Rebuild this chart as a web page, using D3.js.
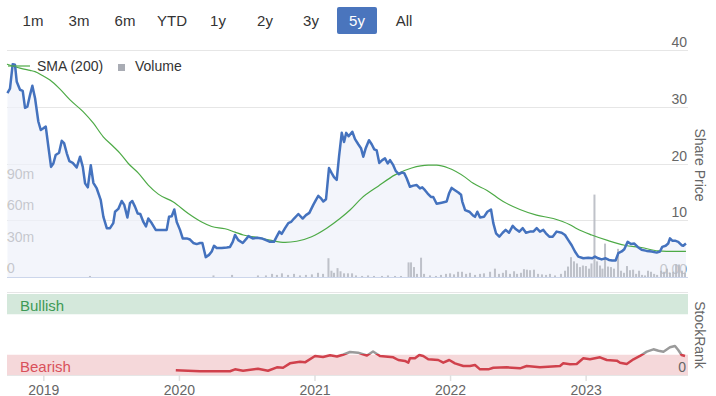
<!DOCTYPE html>
<html><head><meta charset="utf-8">
<script src="https://cdn.jsdelivr.net/npm/d3@7"></script>
<style>
html,body{margin:0;padding:0;background:#fff;}
svg{display:block;font-family:"Liberation Sans",Arial,sans-serif;}
</style></head>
<body><svg id="c" width="716" height="396"></svg>
<script>
// ---- DATA (time as decimal years) ----
const rangeButtons = ["1m","3m","6m","YTD","1y","2y","3y","5y","All"];
const selectedButton = "5y";
const yearTicks = [2019, 2020, 2021, 2022, 2023];
const priceTicks = [0, 10, 20, 30, 40];
const volumeTicks = [0, 30, 60, 90];

const priceTime = [2018.735,2018.754,2018.774,2018.791,2018.804,2018.828,2018.848,2018.865,2018.882,2018.902,2018.919,2018.939,2018.963,2018.981,2019.000,2019.018,2019.037,2019.057,2019.074,2019.091,2019.116,2019.136,2019.153,2019.173,2019.192,2019.217,2019.246,2019.271,2019.291,2019.308,2019.328,2019.350,2019.369,2019.394,2019.423,2019.443,2019.468,2019.492,2019.516,2019.529,2019.553,2019.578,2019.597,2019.620,2019.639,2019.656,2019.676,2019.696,2019.715,2019.738,2019.757,2019.774,2019.799,2019.829,2019.873,2019.910,2019.927,2019.947,2019.966,2019.984,2020.008,2020.028,2020.058,2020.082,2020.106,2020.131,2020.156,2020.173,2020.198,2020.222,2020.242,2020.259,2020.279,2020.316,2020.353,2020.377,2020.397,2020.414,2020.438,2020.471,2020.500,2020.512,2020.544,2020.578,2020.611,2020.642,2020.672,2020.701,2020.721,2020.741,2020.758,2020.783,2020.807,2020.827,2020.849,2020.881,2020.913,2020.937,2020.962,2020.991,2021.011,2021.028,2021.046,2021.065,2021.085,2021.107,2021.127,2021.144,2021.164,2021.181,2021.201,2021.218,2021.234,2021.252,2021.279,2021.299,2021.323,2021.343,2021.360,2021.378,2021.402,2021.422,2021.441,2021.459,2021.478,2021.500,2021.520,2021.540,2021.557,2021.581,2021.599,2021.623,2021.643,2021.662,2021.680,2021.704,2021.729,2021.754,2021.778,2021.795,2021.815,2021.835,2021.859,2021.876,2021.901,2021.938,2021.975,2021.992,2022.012,2022.036,2022.061,2022.081,2022.090,2022.111,2022.142,2022.167,2022.184,2022.201,2022.221,2022.250,2022.275,2022.302,2022.319,2022.339,2022.363,2022.388,2022.410,2022.435,2022.462,2022.486,2022.511,2022.536,2022.560,2022.589,2022.614,2022.639,2022.663,2022.688,2022.707,2022.732,2022.757,2022.786,2022.823,2022.848,2022.872,2022.897,2022.921,2022.946,2022.983,2023.019,2023.049,2023.069,2023.093,2023.118,2023.148,2023.172,2023.196,2023.221,2023.241,2023.266,2023.285,2023.310,2023.334,2023.359,2023.384,2023.413,2023.450,2023.487,2023.524,2023.548,2023.565,2023.590,2023.609,2023.622,2023.639,2023.659,2023.683,2023.708,2023.720,2023.740];
const priceValue = [32.4,33.2,37.5,37.4,34.4,33.0,32.8,29.8,30.0,32.1,33.7,31.5,27.4,25.9,26.2,26.5,23.0,19.4,20.0,21.5,21.9,24.0,23.6,21.8,20.4,20.1,19.3,21.2,19.4,16.5,15.8,19.7,16.6,15.6,13.6,10.6,8.6,8.6,9.5,11.5,12.0,13.4,12.7,10.5,13.0,13.4,12.4,11.2,11.1,9.7,8.9,10.3,9.5,8.3,8.3,8.3,10.6,10.7,11.9,9.7,8.3,6.8,6.8,6.6,6.0,5.8,6.0,6.0,3.5,3.9,4.5,5.5,5.1,5.1,5.2,5.3,6.2,7.4,6.5,6.0,6.8,7.2,6.8,6.9,6.8,6.5,6.2,6.2,7.1,8.0,7.6,8.6,9.5,9.7,10.3,11.1,10.3,10.9,11.3,12.7,13.6,14.3,13.9,13.3,13.7,19.2,18.3,17.6,17.1,21.2,25.4,23.8,25.4,24.8,25.6,24.3,23.4,22.7,21.2,22.7,24.1,23.4,22.5,22.3,20.1,20.6,20.9,20.0,20.6,19.7,18.7,18.1,18.4,18.3,17.4,15.9,16.1,16.2,15.6,15.8,15.3,14.7,14.1,14.1,12.9,13.1,13.3,14.7,15.7,15.3,14.9,14.5,13.3,11.8,11.5,10.9,10.6,11.5,10.5,10.6,11.5,11.9,9.5,7.7,7.1,7.8,8.3,7.8,9.0,8.4,8.0,8.6,7.8,8.0,8.0,8.6,8.0,8.3,7.7,7.1,7.1,8.0,7.8,7.4,6.5,5.6,4.5,3.6,3.3,3.4,3.3,3.6,3.3,3.1,3.3,3.0,2.9,2.9,4.2,4.5,4.9,6.2,5.8,5.9,5.3,4.8,4.6,4.5,4.3,4.5,5.3,5.5,5.9,6.8,6.4,6.4,6.2,5.6,5.5,5.9];

const smaTime = [2018.732,2018.828,2018.902,2018.939,2019.000,2019.049,2019.123,2019.197,2019.295,2019.369,2019.442,2019.516,2019.566,2019.627,2019.701,2019.774,2019.848,2019.959,2020.069,2020.168,2020.242,2020.340,2020.414,2020.475,2020.574,2020.672,2020.783,2020.869,2020.979,2021.090,2021.188,2021.262,2021.348,2021.470,2021.594,2021.717,2021.839,2021.901,2021.987,2022.110,2022.171,2022.270,2022.392,2022.515,2022.638,2022.761,2022.884,2022.936,2023.045,2023.167,2023.288,2023.411,2023.534,2023.658,2023.740];
const smaValue = [37.5,36.8,36.4,36.2,35.4,34.7,33.1,31.2,29.1,27.1,24.7,23.0,21.8,20.0,18.3,16.2,14.6,13.2,11.2,9.7,8.9,8.5,7.9,7.4,7.0,6.5,6.1,6.3,7.1,8.6,10.3,11.8,13.9,16.0,18.0,19.2,19.7,19.7,19.2,17.6,16.5,15.3,13.3,11.9,10.9,10.3,9.2,8.5,7.4,6.4,5.6,5.2,4.6,4.5,4.5];

// volume in millions
const volumeTime = [2019.344,2020.255,2020.392,2020.583,2020.642,2020.687,2020.723,2020.760,2020.805,2020.849,2020.893,2020.937,2020.981,2021.026,2021.063,2021.103,2021.125,2021.144,2021.170,2021.192,2021.218,2021.247,2021.277,2021.306,2021.351,2021.395,2021.439,2021.498,2021.542,2021.594,2021.638,2021.694,2021.712,2021.734,2021.756,2021.786,2021.808,2021.852,2021.896,2021.933,2021.970,2022.000,2022.029,2022.059,2022.088,2022.118,2022.147,2022.184,2022.221,2022.250,2022.295,2022.331,2022.361,2022.390,2022.413,2022.442,2022.472,2022.494,2022.523,2022.545,2022.567,2022.590,2022.619,2022.649,2022.678,2022.708,2022.737,2022.774,2022.818,2022.848,2022.870,2022.892,2022.914,2022.936,2022.958,2022.980,2023.002,2023.025,2023.043,2023.065,2023.084,2023.106,2023.124,2023.143,2023.165,2023.187,2023.209,2023.239,2023.261,2023.283,2023.305,2023.327,2023.350,2023.372,2023.394,2023.416,2023.438,2023.460,2023.482,2023.505,2023.527,2023.556,2023.578,2023.600,2023.622,2023.645,2023.667,2023.689,2023.711,2023.733];
const volumeValue = [1,1.5,2,1.5,1.5,3,2,3.5,2,3,1.5,2,2.5,4,3,18,6,4,8.5,5.5,3.5,3.5,3.5,1.5,1,1.5,1,1,1.5,1,1,14,14,9.5,3,18.5,3,1.5,1,2,3,3.5,2.5,5,5,3,4,2,3,3.5,5,8,3,4,6.5,3,5.5,3,4,7.5,7,6.5,7,3,2.5,2,3,1.5,3,6,10,19,15,13,9.5,11,10.5,8,13,79,15,11,8,32,10,9.5,8,27,6,4,10.5,6.5,7,3,6,2,1.5,6,5,3,2,6,5,8,4,5,12,12,6,4];

const rankTime = [2019.977,2020.156,2020.377,2020.414,2020.473,2020.583,2020.657,2020.723,2020.768,2020.819,2020.893,2020.930,2021.004,2021.063,2021.115,2021.166,2021.210,2021.262,2021.321,2021.351,2021.387,2021.432,2021.483,2021.581,2021.618,2021.667,2021.692,2021.704,2021.741,2021.773,2021.802,2021.839,2021.913,2021.950,2021.994,2022.036,2022.098,2022.147,2022.184,2022.221,2022.282,2022.319,2022.418,2022.516,2022.565,2022.663,2022.811,2022.835,2022.885,2022.934,2022.983,2023.032,2023.106,2023.156,2023.230,2023.254,2023.303,2023.353,2023.401,2023.451,2023.500,2023.537,2023.574,2023.622,2023.659,2023.683,2023.708,2023.733];
const rankValue = [6,4.6,4.6,7,5.3,7.8,5.3,9.5,9,14.4,16.4,15.6,23.5,22.3,24.3,22.8,25,28.4,27.6,26,24,29,23.5,21.8,18.5,17.3,15.2,20.6,20.6,24.7,23.5,19.4,18.5,15.2,18.5,14.4,11.1,11.1,12.3,7,7,9,9.5,8.2,11.1,9.5,11.1,14.4,13.2,13.6,20.6,19.4,21.8,18.5,17.7,15.2,13.6,19.4,23.5,28.8,31.7,30,28.8,34.2,35.8,30.9,24.7,23.5];
const rankThreshold = 26.5;
const bearishBand = [0, 25];
const bullishBand = [75, 100];

// ---- CHART ----
const svg = d3.select("#c");
const X0 = 7, X1 = 688;
const x = d3.scaleLinear().domain([2018.732, 2023.755]).range([X0, X1]);
const yP = d3.scaleLinear().domain([0, 40]).range([277, 50]);
const yV = d3.scaleLinear().domain([0, 120]).range([277, 151.8]);
const yR = d3.scaleLinear().domain([0, 100]).range([375, 294]);

// range selector
const btnX = [33, 79, 125, 172, 218, 265, 311, 357, 404];
const bg = svg.append("g");
rangeButtons.forEach((b, i) => {
  if (b === selectedButton) {
    bg.append("rect").attr("x", btnX[i] - 20).attr("y", 7).attr("width", 40).attr("height", 27)
      .attr("rx", 2).attr("fill", "#4a75bd");
  }
  bg.append("text").attr("x", btnX[i]).attr("y", 25.5).attr("text-anchor", "middle")
    .attr("font-size", 15).attr("fill", b === selectedButton ? "#fff" : "#333").text(b);
});

// gridlines
svg.append("g").selectAll("line").data(priceTicks).join("line")
  .attr("x1", X0).attr("x2", X1).attr("y1", d => Math.round(yP(d)) + 0.5).attr("y2", d => Math.round(yP(d)) + 0.5)
  .attr("stroke", d => d === 0 ? "#ccd6eb" : "#e6e6e6").attr("stroke-width", 1);

// price labels (right)
svg.append("g").selectAll("text").data(priceTicks).join("text")
  .attr("x", 687).attr("y", d => yP(d) - 3).attr("text-anchor", "end")
  .attr("font-size", 14).attr("fill", "#666")
  .text(d => d === 0 ? "0.00" : d);

// volume labels (left)
svg.append("g").selectAll("text").data(volumeTicks).join("text")
  .attr("x", 7).attr("y", d => yV(d) - 4).attr("text-anchor", "start")
  .attr("font-size", 14).attr("fill", "#666")
  .text(d => d === 0 ? "0" : d + "m");

// price area
const priceData = priceTime.map((t, i) => [t, priceValue[i]]);
svg.append("path").datum(priceData)
  .attr("d", d3.area().x(d => x(d[0])).y0(yP(0)).y1(d => yP(d[1])))
  .attr("fill", "#eef1f9").attr("fill-opacity", 0.7);

// volume bars
const volData = volumeTime.map((t, i) => [t, volumeValue[i]]);
svg.append("g").selectAll("rect").data(volData).join("rect")
  .attr("x", d => x(d[0]) - 1).attr("width", 2)
  .attr("y", d => yV(d[1])).attr("height", d => yV(0) - yV(d[1]))
  .attr("fill", "#b4b7c0").attr("opacity", 0.85);

// SMA
const smaData = smaTime.map((t, i) => [t, smaValue[i]]);
svg.append("path").datum(smaData)
  .attr("d", d3.line().x(d => x(d[0])).y(d => yP(d[1])).curve(d3.curveMonotoneX))
  .attr("fill", "none").attr("stroke", "#4daa46").attr("stroke-width", 1.2);

// price line
svg.append("path").datum(priceData)
  .attr("d", d3.line().x(d => x(d[0])).y(d => yP(d[1])))
  .attr("fill", "none").attr("stroke", "#4472be").attr("stroke-width", 2.5)
  .attr("stroke-linejoin", "round");

// legend
const lg = svg.append("g");
lg.append("line").attr("x1", 8).attr("x2", 30).attr("y1", 66).attr("y2", 66)
  .attr("stroke", "#4daa46").attr("stroke-width", 1.2);
lg.append("text").attr("x", 37).attr("y", 71).attr("font-size", 14).attr("fill", "#333").text("SMA (200)");
lg.append("rect").attr("x", 118).attr("y", 64).attr("width", 7).attr("height", 7).attr("fill", "#a9acb4");
lg.append("text").attr("x", 135).attr("y", 71).attr("font-size", 14).attr("fill", "#333").text("Volume");

// Share Price title
svg.append("text").attr("transform", "translate(695,165) rotate(90)")
  .attr("text-anchor", "middle").attr("font-size", 14).attr("fill", "#666").text("Share Price");

// ---- StockRank panel ----
svg.append("line").attr("x1", X0).attr("x2", X1).attr("y1", 292.5).attr("y2", 292.5)
  .attr("stroke", "#e6e6e6");
svg.append("rect").attr("x", X0).attr("width", X1 - X0)
  .attr("y", yR(bullishBand[1])).attr("height", yR(bullishBand[0]) - yR(bullishBand[1]))
  .attr("fill", "#d4e8db");
svg.append("rect").attr("x", X0).attr("width", X1 - X0)
  .attr("y", yR(bearishBand[1])).attr("height", yR(bearishBand[0]) - yR(bearishBand[1]))
  .attr("fill", "#f5d8da");
svg.append("text").attr("x", 20).attr("y", 311).attr("font-size", 15).attr("fill", "#3d9a55").text("Bullish");
svg.append("text").attr("x", 20).attr("y", 372).attr("font-size", 15).attr("fill", "#d9505a").text("Bearish");
svg.append("text").attr("x", 686).attr("y", 372).attr("text-anchor", "end").attr("font-size", 14).attr("fill", "#666").text("0");
svg.append("text").attr("transform", "translate(695,335) rotate(90)")
  .attr("text-anchor", "middle").attr("font-size", 14).attr("fill", "#666").text("StockRank");

// rank line with colour zones (gradient split at threshold)
const rankData = rankTime.map((t, i) => [t, rankValue[i]]);
const ty = yR(rankThreshold);
const grad = svg.append("defs").append("linearGradient").attr("id", "rankZones")
  .attr("gradientUnits", "userSpaceOnUse").attr("x1", 0).attr("x2", 0).attr("y1", 0).attr("y2", 396);
const f = ty / 396;
grad.append("stop").attr("offset", 0).attr("stop-color", "#9a9a9a");
grad.append("stop").attr("offset", f).attr("stop-color", "#9a9a9a");
grad.append("stop").attr("offset", f).attr("stop-color", "#d0414c");
grad.append("stop").attr("offset", 1).attr("stop-color", "#d0414c");
svg.append("path").datum(rankData)
  .attr("d", d3.line().x(d => x(d[0])).y(d => yR(d[1])))
  .attr("fill", "none").attr("stroke", "url(#rankZones)").attr("stroke-width", 2.5).attr("stroke-linejoin", "round");

// x axis
const xAxis = d3.axisBottom(x).tickValues(yearTicks).tickFormat(d3.format("d")).tickSize(6).tickPadding(6);
const ax = svg.append("g").attr("transform", "translate(0,375)").call(xAxis);
ax.select(".domain").attr("stroke", "#e6e6e6").attr("d", `M${X0},0.5H${X1}`);
ax.selectAll(".tick line").attr("stroke", "#e0e0e0").attr("stroke-width", 1.5);
ax.selectAll(".tick text").attr("font-size", 14).attr("fill", "#666")
  .attr("font-family", "Liberation Sans, Arial, sans-serif").attr("y", 19.5).attr("dy", 0);
</script></body></html>
